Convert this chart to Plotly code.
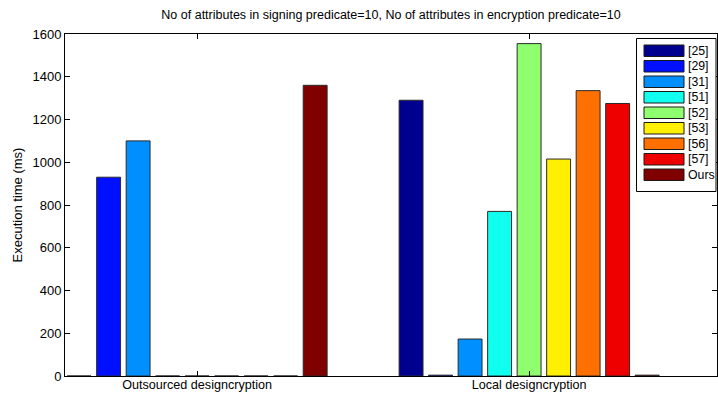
import plotly.graph_objects as go

# Scenario groups and schemes compared
groups = ["Outsourced designcryption", "Local designcryption"]
schemes = ["[25]", "[29]", "[31]", "[51]", "[52]", "[53]", "[56]", "[57]", "Ours"]

# Execution time (ms) per scheme: [outsourced, local]
times = {
    "[25]": [0, 1290],
    "[29]": [930, 4],
    "[31]": [1100, 173],
    "[51]": [0, 770],
    "[52]": [0, 1555],
    "[53]": [0, 1015],
    "[56]": [0, 1335],
    "[57]": [0, 1275],
    "Ours": [1360, 4],
}

# Jet colormap samples, one per scheme
colors = ["rgb(0,0,143)", "rgb(0,16,255)", "rgb(0,143,255)", "rgb(16,255,239)",
          "rgb(143,255,112)", "rgb(255,239,0)", "rgb(255,112,0)", "rgb(239,0,0)",
          "rgb(128,0,0)"]

W, H = 718, 394
L, R, T, B = 65, 1, 34, 18
PW, PH = W - L - R, H - T - B

FONT = "Liberation Sans, Arial, Helvetica, sans-serif"

fig = go.Figure()
xpos = [1, 2]
for name, col in zip(schemes, colors):
    fig.add_trace(go.Bar(
        x=xpos, y=times[name], name=name,
        marker=dict(color=col, line=dict(color="#2a2a2a", width=1)),
        showlegend=False,
    ))


def px_x(px):
    return (px - L) / PW


def px_y(py):
    return (H - B - py) / PH


# Legend box drawn in paper space
shapes = [dict(type="rect", xref="paper", yref="paper",
               x0=px_x(636.5), x1=px_x(716), y0=px_y(191.5), y1=px_y(38.5),
               line=dict(color="black", width=1), fillcolor="white", layer="above")]
annotations = []
for i, (name, col) in enumerate(zip(schemes, colors)):
    top = 45 + 15.5 * i
    shapes.append(dict(type="rect", xref="paper", yref="paper",
                       x0=px_x(644), x1=px_x(684), y0=px_y(top + 11.5), y1=px_y(top),
                       line=dict(color="#1a1a1a", width=1), fillcolor=col, layer="above"))
    annotations.append(dict(xref="paper", yref="paper", x=px_x(685.5), y=px_y(top + 5.8),
                            text=name, showarrow=False, xanchor="left", yanchor="middle",
                            font=dict(family=FONT, size=12.3, color="black")))

fig.update_layout(
    width=W, height=H,
    margin=dict(l=L, r=R, t=T, b=B, pad=0, autoexpand=False),
    paper_bgcolor="white", plot_bgcolor="white",
    barmode="group", bargap=0.2, bargroupgap=0.19,
    font=dict(family=FONT, size=13, color="black"),
    title=dict(text="No of attributes in signing predicate=10, No of attributes in encryption predicate=10",
               x=(L + PW / 2) / W, xanchor="center", y=1 - 15 / H, yanchor="middle",
               font=dict(family=FONT, size=12.5, color="black")),
    xaxis=dict(range=[0.602, 2.566], tickvals=xpos, ticktext=groups, automargin=False,
               showgrid=False, zeroline=False, showline=True, linecolor="black",
               linewidth=1, mirror="ticks", ticks="inside", ticklen=5,
               tickcolor="black", tickfont=dict(size=12.6), ticklabelstandoff=-3),
    yaxis=dict(range=[0, 1600], tickvals=list(range(0, 1601, 200)), automargin=False,
               showgrid=False, zeroline=False, showline=True, linecolor="black",
               linewidth=1, mirror="ticks", ticks="inside", ticklen=5,
               tickcolor="black", tickfont=dict(size=13),
               title=dict(text="Execution time (ms)", font=dict(size=13), standoff=6)),
    shapes=shapes, annotations=annotations,
)

fig.write_html("out.html")
